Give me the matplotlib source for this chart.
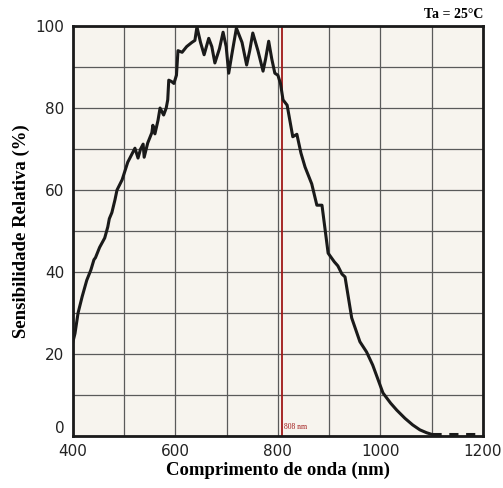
import numpy as np
import matplotlib.pyplot as plt

# espectro de sensibilidade relativa
wavelength = [400, 404, 410, 418, 427, 435, 441, 444, 452, 462, 468, 471, 476, 482, 486,
              496, 507, 514, 521, 527, 532, 537, 539, 546, 554, 556, 560, 566, 570, 577,
              582, 585, 587, 592, 597, 602, 605, 613, 622, 632, 638, 642, 649, 656, 665,
              671, 677, 686, 693, 699, 704, 710, 719, 730, 739, 745, 751, 761, 771, 776,
              782, 788, 794, 800, 805, 810, 818, 829, 837, 845, 853, 866, 876, 886, 898,
              910, 917, 925, 931, 944, 960, 973, 985, 1005, 1020, 1032, 1048, 1063, 1077,
              1090, 1100]
sensitivity = [23, 25, 30, 34, 38, 40.5, 43, 43.5, 46, 48.3, 51, 53, 54.5, 57.6, 60,
               62.5, 66.8, 68.5, 70.2, 67.8, 70, 71.2, 68, 71.5, 74, 75.8, 73.7, 77, 80, 78.3,
               80, 82, 86.8, 86.5, 86, 88, 94, 93.6, 95, 96, 96.5, 99.8, 96, 93, 97,
               95, 91, 94.5, 98.5, 95, 88.5, 93, 99.5, 96, 90.5, 94, 98.3, 94, 89, 92,
               96.3, 92, 88.5, 88, 86, 82, 80.7, 73, 73.6, 69, 65.6, 61.5, 56.3, 56.3, 44.6,
               42.5, 41.5, 39.5, 38.8, 28.8, 23, 20.5, 17.3, 10.5, 8, 6.3, 4.3, 2.7, 1.5,
               0.8, 0.4]
tail_wl = [1100, 1200]
tail_val = [0.4, 0.4]

laser_wl = 808

fig = plt.figure(figsize=(5.03, 4.88), dpi=100)
ax = fig.add_axes([0.145, 0.1066, 0.815, 0.84])
ax.set_facecolor('#f7f4ee')

ax.plot(wavelength, sensitivity, color='#1a1a1a', lw=2.2, solid_joinstyle='round', zorder=3)
ax.plot(tail_wl, tail_val, color='#1a1a1a', lw=2.2, ls=(0, (3, 2.5)), zorder=3)
ax.axvline(laser_wl, color='#a01818', lw=1.3, zorder=2)
ax.text(laser_wl + 4, 1.2, '808 nm', color='#a01818', fontsize=5.5,
        family='Liberation Serif', va='bottom', ha='left')

ax.set_xlim(400, 1200)
ax.set_ylim(0, 100)
ax.set_xticks(np.arange(400, 1201, 100))
ax.set_xticklabels(['400', '', '600', '', '800', '', '1000', '', '1200'])
ax.set_yticks(np.arange(0, 101, 10))
ax.set_yticklabels(['0', '', '20', '', '40', '', '60', '', '80', '', '100'])
ax.tick_params(length=0, labelsize=11, labelcolor='#222222')
ax.tick_params(axis='x', pad=6)
ax.tick_params(axis='y', pad=6)
# the zero label sits a little higher, clear of "400"
ax.get_yticklabels()[0].set_va('bottom')
ax.grid(True, color='#5a5a5a', lw=0.9, zorder=1)
ax.set_axisbelow(True)
for s in ax.spines.values():
    s.set_linewidth(2)
    s.set_color('#1a1a1a')

ax.set_xlabel('Comprimento de onda (nm)', fontsize=13.5, fontweight='bold',
              family='Liberation Serif', labelpad=2)
ax.set_ylabel('Sensibilidade Relativa (%)', fontsize=13.5, fontweight='bold',
              family='Liberation Serif', labelpad=4)
ax.text(1.0, 1.012, 'Ta = 25°C', transform=ax.transAxes, ha='right', va='bottom',
        fontsize=10, fontweight='bold', family='Liberation Serif')

fig.savefig('out.png', dpi=100)
